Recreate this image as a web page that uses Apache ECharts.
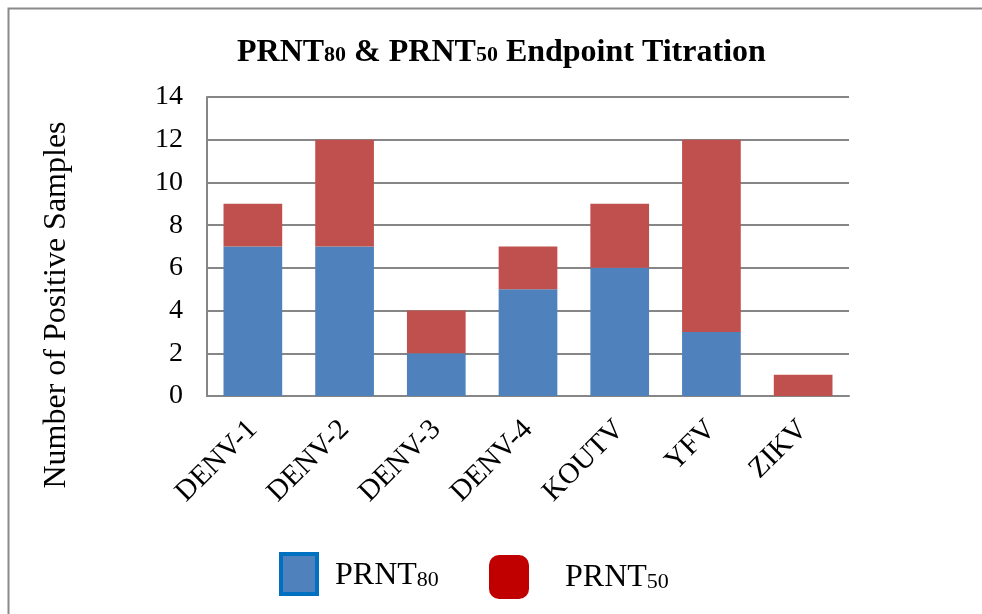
<!DOCTYPE html>
<html>
<head>
<meta charset="utf-8">
<script src="https://cdn.jsdelivr.net/npm/echarts@6/dist/echarts.min.js"></script>
<style>
  html, body { margin: 0; padding: 0; background: #fff; }
  #chart { width: 982px; height: 614px; }
</style>
</head>
<body>
<div id="chart"></div>
<script>
var categories = ['DENV-1', 'DENV-2', 'DENV-3', 'DENV-4', 'KOUTV', 'YFV', 'ZIKV'];
var prnt80 = [7, 7, 2, 5, 6, 3, 0];
var prnt50 = [2, 5, 2, 2, 3, 9, 1];
var yTicks = [0, 2, 4, 6, 8, 10, 12, 14];

var serif = '"Liberation Serif", "Times New Roman", serif';
var chart = echarts.init(document.getElementById('chart'));

var legendRich = {
  a: { fontFamily: serif, fontSize: 32, color: '#000', padding: [4, 0, 0, 13] },
  s: { fontFamily: serif, fontSize: 22, color: '#000', verticalAlign: 'bottom', padding: [0, 0, 1, 0] }
};

chart.setOption({
  animation: false,
  backgroundColor: '#fff',
  title: {
    text: '{a|PRNT}{s|80}{a| & PRNT}{s|50}{a| Endpoint Titration}',
    left: 232,
    top: 32,
    textStyle: {
      rich: {
        a: { fontFamily: serif, fontSize: 32, fontWeight: 'bold', color: '#000' },
        s: { fontFamily: serif, fontSize: 22, fontWeight: 'bold', color: '#000', verticalAlign: 'bottom', padding: [0, 0, 3, 0] }
      }
    }
  },
  graphic: [{
    type: 'rect',
    left: 6, top: 6,
    shape: { width: 1000, height: 700 },
    style: { fill: 'none', stroke: '#8a8a8a', lineWidth: 2 },
    silent: true, z: -1
  }, {
    type: 'text',
    x: 57, y: 305,
    rotation: Math.PI / 2,
    style: {
      text: 'Number of Positive Samples',
      fontFamily: serif, fontSize: 32, fill: '#000',
      align: 'center', verticalAlign: 'middle'
    }
  }],
  legend: [{
    left: 274, top: 547,
    itemWidth: 36, itemHeight: 40,
    icon: 'rect',
    selectedMode: false,
    data: [{ name: 'PRNT80', itemStyle: { color: '#4F81BD', borderColor: '#0070C0', borderWidth: 4 } }],
    formatter: function () { return '{a|PRNT}{s|80}'; },
    textStyle: { rich: legendRich }
  }, {
    left: 484, top: 550,
    itemWidth: 40, itemHeight: 44,
    icon: 'roundRect',
    selectedMode: false,
    data: [{ name: 'PRNT50', itemStyle: { color: '#C00000', borderWidth: 0 } }],
    formatter: function () { return '{a|PRNT}{s|50}'; },
    textStyle: { rich: { a: Object.assign({}, legendRich.a, { padding: [2, 0, 0, 31] }), s: legendRich.s } }
  }],
  grid: { left: 207, right: 133, top: 97, bottom: 218 },
  xAxis: {
    type: 'category',
    data: categories,
    axisLine: { lineStyle: { color: '#868686', width: 2 } },
    axisTick: { show: false },
    axisLabel: { rotate: 45, fontFamily: serif, fontSize: 29, color: '#000', margin: 29, interval: 0 }
  },
  yAxis: {
    type: 'value',
    min: yTicks[0], max: yTicks[yTicks.length - 1], interval: 2,
    axisLine: { show: true, lineStyle: { color: '#868686', width: 2 } },
    axisTick: { show: false },
    splitLine: { lineStyle: { color: '#868686', width: 2 } },
    axisLabel: { fontFamily: serif, fontSize: 28, color: '#000', margin: 24 }
  },
  series: [{
    name: 'PRNT80',
    type: 'bar',
    stack: 'total',
    barWidth: '64%',
    data: prnt80,
    itemStyle: { color: '#4F81BD' }
  }, {
    name: 'PRNT50',
    type: 'bar',
    stack: 'total',
    data: prnt50,
    itemStyle: { color: '#C0504D' }
  }]
});
</script>
</body>
</html>
